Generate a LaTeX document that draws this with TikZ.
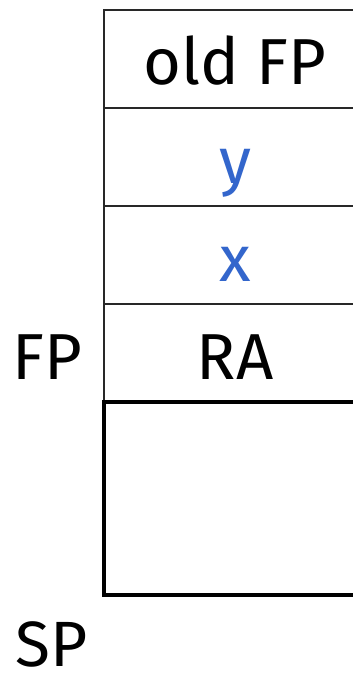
\documentclass[tikz,border=0pt]{standalone}
\usepackage{fontspec}
\setmainfont{Fira Sans}
\usetikzlibrary{positioning}
\definecolor{stkBlue}{RGB}{51,102,204}
\definecolor{stkLine}{RGB}{40,40,40}

\tikzset{
  big/.style={font=\fontsize{65}{70}\selectfont, text height=62pt, text depth=10pt},
  cell/.style={big, draw=stkLine, line width=2.2pt, rectangle, anchor=north west,
    minimum width=262pt, minimum height=98pt, inner sep=0pt, outer sep=0pt},
  freecell/.style={cell, draw=black, line width=3.5pt, minimum height=193pt},
  var/.style={text=stkBlue}
}

\begin{document}
\begin{tikzpicture}[x=1pt,y=-1pt]
  \useasboundingbox (0,0) rectangle (353,674);
  \clip (0,0) rectangle (353,674);
  % stack cells, top down
  \node[cell] (oldfp) at (104,10) {old FP};
  \node[cell, var, below=0pt of oldfp.south west, anchor=north west] (cy) {y};
  \node[cell, var, below=0pt of cy.south west, anchor=north west] (cx) {x};
  \node[cell, below=0pt of cx.south west, anchor=north west] (ra) {RA};
  \node[freecell, below=0pt of ra.south west, anchor=north west] (free) {};
  % register labels
  \node[big, inner sep=0pt, left=22pt of ra.west] (fp) {FP};
  \node[font=\fontsize{64}{70}\selectfont, inner sep=0pt, anchor=base] (sp) at (52,666) {SP};
\end{tikzpicture}
\end{document}
